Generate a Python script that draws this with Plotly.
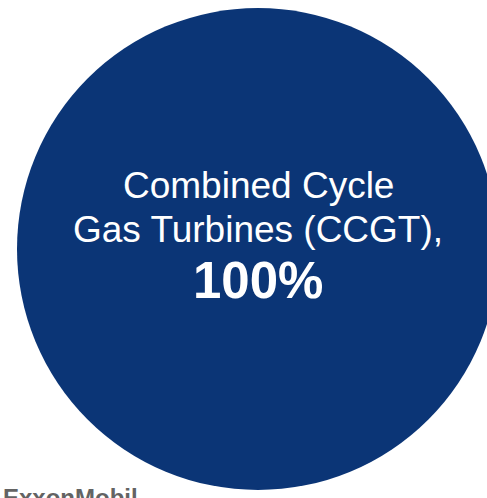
import plotly.graph_objects as go

# pie data
labels = ["Combined Cycle Gas Turbines (CCGT)"]
values = [100]
label_lines = ["Combined Cycle", "Gas Turbines (CCGT),"]
source = "ExxonMobil"

navy = "#0b3576"
W, H = 500, 498
L, T, SIZE = 17, 8, 482


def px(x):
	return (x - L) / SIZE


def py(y):
	return (T + SIZE - y) / SIZE


pct = values[0] / sum(values) * 100

fig = go.Figure()
fig.add_trace(go.Pie(
	labels=labels, values=values, sort=False,
	marker=dict(colors=[navy], line=dict(width=0)),
	textinfo="none", hoverinfo="none", showlegend=False,
))

# label text, two lines and the share in bold
fnt = dict(family="Liberation Sans, Arial, sans-serif", color="white")
for txt, ymid in zip(label_lines, [185, 229]):
	fig.add_annotation(x=px(258), y=py(ymid), xref="paper", yref="paper",
		text=txt, showarrow=False, xanchor="center", yanchor="middle",
		font=dict(size=37, **fnt))
fig.add_annotation(x=px(258), y=py(280), xref="paper", yref="paper",
	text="<b>%d%%</b>" % round(pct), showarrow=False,
	xanchor="center", yanchor="middle", font=dict(size=51, **fnt))

fig.add_annotation(x=px(1), y=py(497), xref="paper", yref="paper",
	text="<b>" + source + "</b>", showarrow=False,
	xanchor="left", yanchor="middle",
	font=dict(family="Liberation Sans, Arial, sans-serif", size=24, color="#636363"))

fig.update_layout(
	width=W, height=H,
	margin=dict(l=L, r=W - L - SIZE, t=T, b=H - T - SIZE),
	paper_bgcolor="white", plot_bgcolor="white",
)

fig.write_html("out.html", config={"displayModeBar": False},
	post_script="document.body.style.margin='0';document.body.style.overflow='hidden';")
